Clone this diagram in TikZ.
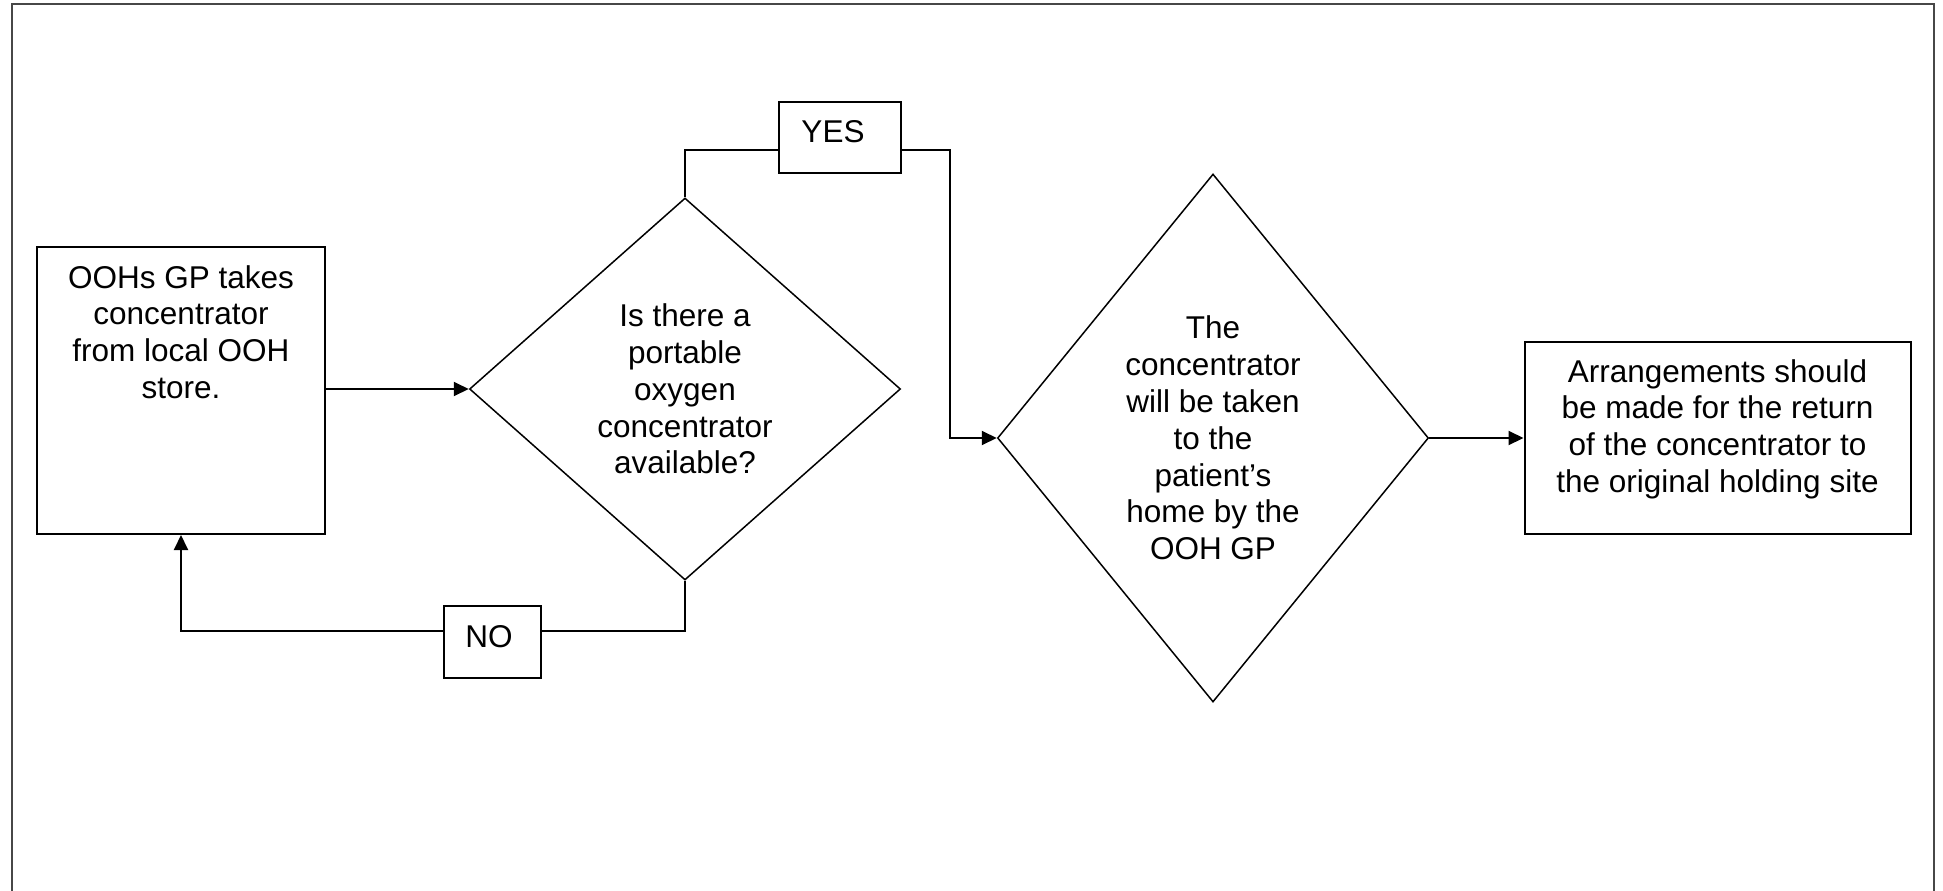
\documentclass[tikz,border=0pt]{standalone}
\usepackage{fontspec}
\setmainfont{Liberation Sans}
\usetikzlibrary{shapes.geometric,arrows.meta}
\tikzset{
  boxshape/.style={draw, line width=2bp, rectangle, inner sep=0pt},
  diashape/.style={draw, line width=1.5bp, diamond, inner sep=0pt, align=center, font=\fontsize{31.5bp}{36.8bp}\selectfont},
  txt/.style={inner sep=0pt, align=center, font=\fontsize{31.5bp}{36.8bp}\selectfont},
  conn/.style={line width=2bp},
  arr/.style={conn, -{Triangle[length=15bp,width=14bp]}},
  frame/.style={line width=2.2bp, draw=black!72}
}
\begin{document}
\begin{tikzpicture}[x=1bp,y=-1bp]
\useasboundingbox (0,0) rectangle (1943,891);
% outer frame
\draw[frame] (12,891) -- (12,4) -- (1934,4) -- (1934,891);
% box 1
\node[boxshape, minimum width=288bp, minimum height=287bp] (b1) at (181,390.5) {};
\node[txt, anchor=north] (b1t) at (181,265) {OOHs GP takes\\concentrator\\from local OOH\\store.};
% diamond 1
\node[diashape, minimum width=431bp, minimum height=382bp, aspect=1.128] (d1) at (685,389) {Is there a\\portable\\oxygen\\concentrator\\available?};
% YES label
\node[boxshape, minimum width=122bp, minimum height=71bp] (yes) at (840,137.5) {};
\node[txt] (yest) at (833,132) {YES};
% diamond 2
\node[diashape, minimum width=431bp, minimum height=528bp, aspect=0.816] (d2) at (1213,438) {The\\concentrator\\will be taken\\to the\\patient’s\\home by the\\OOH GP};
% box 3
\node[boxshape, minimum width=386bp, minimum height=192bp] (b3) at (1717.5,438) {};
\node[txt, anchor=north] (b3t) at (1717.5,359) {Arrangements should\\be made for the return\\of the concentrator to\\the original holding site};
% NO label
\node[boxshape, minimum width=97bp, minimum height=72bp] (no) at (492.5,642) {};
\node[txt] (not) at (489,637) {NO};
% connectors
\draw[arr] (b1.east |- d1.west) -- (d1.west);
\draw[conn] (d1.north) |- ([yshift=-12.5bp]yes.west);
\draw[arr] ([yshift=-12.5bp]yes.east) -- ++(48,0) |- (d2.west);
\draw[arr] (d2.east) -- (b3.west);
\draw[conn] (d1.south) |- ([yshift=11bp]no.east);
\draw[arr] ([yshift=11bp]no.west) -| (b1.south);
\end{tikzpicture}
\end{document}
